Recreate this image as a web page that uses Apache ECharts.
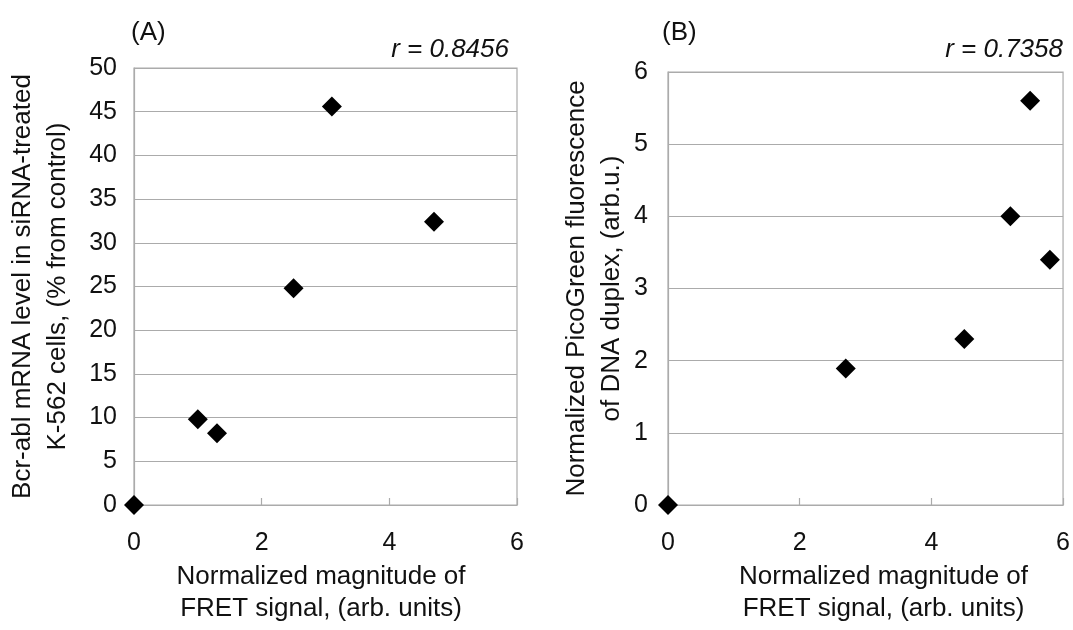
<!DOCTYPE html>
<html>
<head>
<meta charset="utf-8">
<script src="https://cdn.jsdelivr.net/npm/echarts@6/dist/echarts.min.js"></script>
<style>
html,body{margin:0;padding:0;background:#fff;}
#chart{width:1073px;height:630px;}
</style>
</head>
<body>
<div id="chart"></div>
<script>
// Panel A data: FRET signal vs Bcr-abl mRNA level
const fretA = [0, 1.0, 1.3, 2.5, 3.1, 4.7];
const mrnaA = [0, 9.8, 8.2, 24.8, 45.6, 32.4];
// Panel B data: FRET signal vs PicoGreen fluorescence
const fretB = [0, 2.7, 4.5, 5.2, 5.5, 5.8];
const picoB = [0, 1.89, 2.3, 4.0, 5.6, 3.4];
// Texts
const panelLabels = ['(A)', '(B)'];
const rLabels = ['r = 0.8456', 'r = 0.7358'];
const xName = 'Normalized magnitude of\nFRET signal, (arb. units)';
const yNameA = 'Bcr-abl mRNA level in siRNA-treated\nK-562 cells, (% from control)';
const yNameB = 'Normalized PicoGreen fluorescence\nof DNA duplex, (arb.u.)';

const FONT = '"Liberation Sans", Arial, sans-serif';
const TXT = '#111';
const GRID_C = '#ababab';

function pairs(xs, ys) { return xs.map((x, i) => [x, ys[i]]); }

function xAxisCfg(idx, pad) {
  return {
    gridIndex: idx, type: 'value', min: 0, max: 6, interval: 2,
    name: xName, nameLocation: 'middle', nameGap: 56,
    nameTextStyle: { fontFamily: FONT, fontSize: 26, color: TXT, lineHeight: 32, padding: pad },
    axisLine: { show: true, onZero: false, lineStyle: { color: GRID_C, width: 1.2 } },
    axisTick: { show: true, inside: true, length: 7, lineStyle: { color: GRID_C, width: 1.2 } },
    axisLabel: { fontFamily: FONT, fontSize: 25, color: TXT, margin: 26 },
    splitLine: { show: false }
  };
}
function yAxisCfg(idx, max, interval, name, gap, margin) {
  return {
    gridIndex: idx, type: 'value', min: 0, max: max, interval: interval,
    name: name, nameLocation: 'middle', nameGap: gap,
    nameTextStyle: { fontFamily: FONT, fontSize: 26, color: TXT, lineHeight: 35 },
    axisLine: { show: true, onZero: false, lineStyle: { color: GRID_C, width: 1.2 } },
    axisTick: { show: false },
    axisLabel: { fontFamily: FONT, fontSize: 25, color: TXT, margin: margin },
    splitLine: { show: true, lineStyle: { color: GRID_C, width: 1.2 } }
  };
}

const chart = echarts.init(document.getElementById('chart'), null, { renderer: 'canvas' });
chart.setOption({
  backgroundColor: '#fff',
  animation: false,
  grid: [
    { left: 134, top: 68, width: 383, height: 443, show: true, borderColor: GRID_C, borderWidth: 1.2, backgroundColor: 'transparent' },
    { left: 668, top: 72, width: 398, height: 439, show: true, borderColor: GRID_C, borderWidth: 1.2, backgroundColor: 'transparent' }
  ],
  xAxis: [xAxisCfg(0, [0, 9, 0, 0]), xAxisCfg(1, [0, 0, 0, 36])],
  yAxis: [
    yAxisCfg(0, 50, 5, yNameA, 59, 17),
    yAxisCfg(1, 6, 1, yNameB, 39, 20)
  ],
  graphic: [
    { type: 'text', left: 131, top: 20, style: { text: panelLabels[0], font: '26px ' + FONT, fill: TXT } },
    { type: 'text', left: 662, top: 20, style: { text: panelLabels[1], font: '26px ' + FONT, fill: TXT } },
    { type: 'text', right: 1073 - 509, top: 37, style: { text: rLabels[0], font: 'italic 26px ' + FONT, fill: TXT } },
    { type: 'text', right: 1073 - 1063, top: 37, style: { text: rLabels[1], font: 'italic 26px ' + FONT, fill: TXT } }
  ],
  series: [
    { type: 'scatter', xAxisIndex: 0, yAxisIndex: 0, data: pairs(fretA, mrnaA), symbol: 'diamond', symbolSize: 20, itemStyle: { color: '#000', opacity: 1 }, clip: false },
    { type: 'scatter', xAxisIndex: 1, yAxisIndex: 1, data: pairs(fretB, picoB), symbol: 'diamond', symbolSize: 20, itemStyle: { color: '#000', opacity: 1 }, clip: false }
  ]
});
</script>
</body>
</html>
